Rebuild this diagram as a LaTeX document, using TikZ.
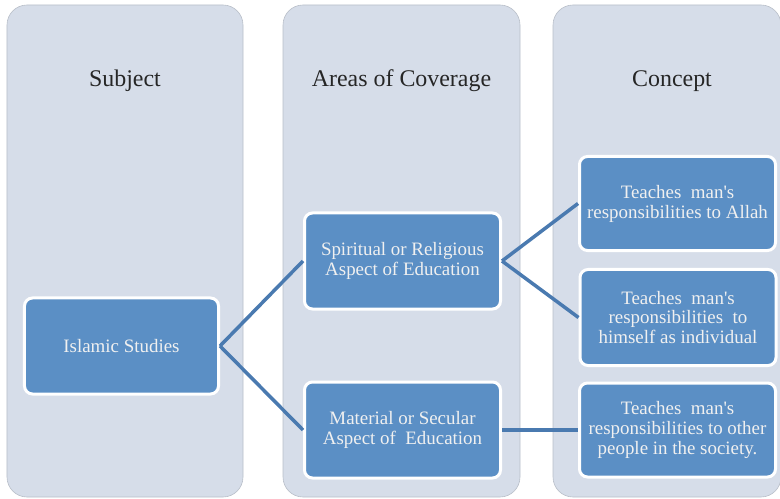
\documentclass[tikz,border=0pt]{standalone}
\usepackage{fontspec}
\setmainfont{Liberation Serif}
\definecolor{colbg}{RGB}{214,221,233}
\definecolor{colrim}{RGB}{184,190,200}
\definecolor{boxblue}{RGB}{91,143,197}
\definecolor{linkblue}{RGB}{74,122,176}
\tikzset{
  column/.style={draw=colrim, line width=0.6bp, fill=colbg, rounded corners=20bp,
    minimum height=492bp, inner sep=0pt},
  heading/.style={text=black!85, font=\fontsize{24}{28}\selectfont},
  item/.style={draw=white, line width=3bp, fill=boxblue, rounded corners=8bp,
    text=white!94!black, align=center, font=\fontsize{19}{20}\selectfont,
    minimum width=196bp, minimum height=96bp, inner sep=2bp},
  link/.style={draw=linkblue, line width=3.5bp}
}
\begin{document}
\begin{tikzpicture}[x=1bp, y=-1bp]
  \useasboundingbox (0,0) rectangle (780,499);
  \node[column, minimum width=236bp] (subjectcol) at (125,251) {};
  \node[column, minimum width=237bp] (areacol) at (401.5,251) {};
  \node[column, minimum width=228bp] (conceptcol) at (667,251) {};
  \node[heading] (subject) at (125,81) {Subject};
  \node[heading] (areas) at (401.5,81) {Areas of Coverage};
  \node[heading] (concept) at (672,81) {Concept};
  \node[item, minimum width=194bp] (islamic) at (121.5,346) {Islamic Studies};
  \node[item] (spiritual) at (402.5,261) {Spiritual or Religious\\Aspect of Education};
  \node[item] (material) at (402.5,430) {Material or Secular\\Aspect of~ Education};
  \node[item, minimum height=94bp] (allah) at (677.5,203.5) {Teaches~ man\textquotesingle s\\responsibilities to Allah};
  \node[item] (himself) at (678,317.5) {Teaches~ man\textquotesingle s\\responsibilities~ to\\himself as individual};
  \node[item, minimum height=94bp] (society) at (677.5,430) {Teaches~ man\textquotesingle s\\responsibilities to other\\people in the society.};
  \begin{scope}[link]
    \draw (islamic.east) to (spiritual.west);
    \draw (islamic.east) to (material.west);
    \draw (spiritual.east) to (allah.west);
    \draw (spiritual.east) to (himself.west);
    \draw (material.east) to (society.west);
  \end{scope}
\end{tikzpicture}
\end{document}
